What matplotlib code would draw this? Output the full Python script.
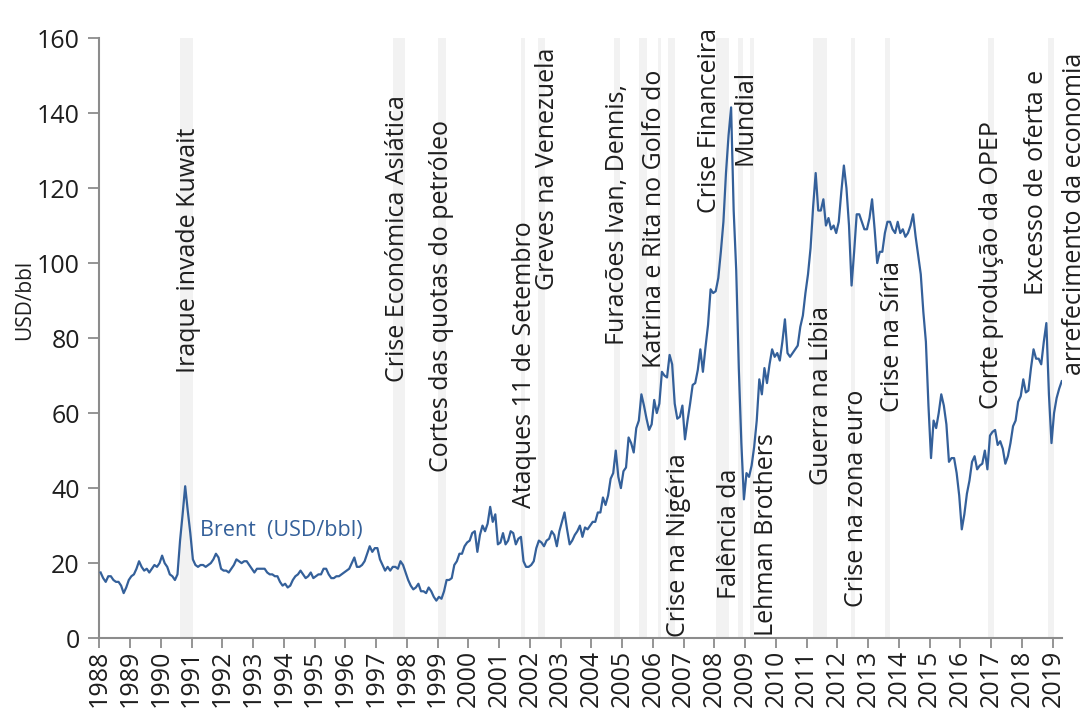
import matplotlib
matplotlib.use("Agg")
import matplotlib.pyplot as plt
import numpy as np

LINE = "#34609A"; BAND = "#F2F2F2"; AXIS = "#8C8C8C"; INK = "#1E1E1E"
plt.rcParams.update({"font.family": ["Open Sans", "DejaVu Sans"], "font.weight": "normal",
                     "text.color": INK, "xtick.color": INK, "ytick.color": INK})

years = list(range(1988, 2020))
# Brent, USD/bbl, one value per month (Jan..Dec), 2019 to April
brent = [
    [17.5, 16.0, 15.0, 16.5, 16.5, 15.5, 15.0, 15.0, 14.0, 12.0, 13.5, 15.5],
    [16.5, 17.0, 18.5, 20.5, 19.0, 18.0, 18.5, 17.5, 18.5, 19.5, 19.0, 20.0],
    [22.0, 20.0, 19.0, 17.0, 16.5, 15.5, 17.0, 26.0, 33.0, 40.5, 34.0, 28.0],
    [21.0, 19.5, 19.0, 19.5, 19.5, 19.0, 19.5, 20.0, 21.0, 22.5, 21.5, 18.5],
    [18.0, 18.0, 17.5, 18.5, 19.5, 21.0, 20.5, 20.0, 20.5, 20.5, 19.5, 18.5],
    [17.5, 18.5, 18.5, 18.5, 18.5, 17.5, 17.0, 17.0, 16.5, 16.5, 15.0, 14.0],
    [14.5, 13.5, 14.0, 15.5, 16.5, 17.0, 18.0, 17.0, 16.0, 16.5, 17.5, 16.0],
    [16.5, 17.0, 17.0, 18.5, 18.5, 17.0, 16.0, 16.0, 16.5, 16.5, 17.0, 17.5],
    [18.0, 18.5, 20.0, 21.5, 19.0, 19.0, 19.5, 20.5, 22.5, 24.5, 23.0, 24.0],
    [24.0, 21.0, 19.5, 18.0, 19.0, 18.0, 19.0, 19.0, 18.5, 20.5, 19.5, 17.5],
    [15.5, 14.0, 13.0, 13.5, 14.5, 12.5, 12.5, 12.0, 13.5, 12.5, 11.0, 10.0],
    [11.0, 10.5, 12.5, 15.5, 15.5, 16.0, 19.5, 20.5, 22.5, 22.5, 24.5, 25.5],
    [26.0, 28.0, 28.5, 23.0, 27.5, 30.0, 28.5, 30.5, 35.0, 31.0, 33.0, 25.0],
    [25.5, 28.0, 25.0, 26.0, 28.5, 28.0, 25.0, 26.5, 27.0, 20.5, 19.0, 19.0],
    [19.5, 20.5, 24.0, 26.0, 25.5, 24.5, 26.0, 26.5, 28.5, 27.5, 24.5, 28.5],
    [31.0, 33.5, 29.0, 25.0, 26.0, 27.5, 28.5, 30.0, 27.0, 29.5, 29.0, 30.0],
    [31.0, 31.0, 33.5, 33.5, 37.5, 35.5, 38.0, 42.5, 44.0, 50.0, 43.0, 40.0],
    [44.5, 45.5, 53.5, 52.0, 49.5, 56.0, 58.0, 65.0, 62.0, 58.5, 55.5, 57.0],
    [63.5, 60.0, 62.5, 71.0, 70.0, 69.5, 75.5, 73.0, 62.5, 58.5, 59.0, 62.0],
    [53.0, 58.0, 62.5, 67.5, 68.0, 71.5, 77.0, 71.0, 77.5, 83.5, 93.0, 92.0],
    [92.5, 96.0, 103.0, 111.0, 124.0, 134.0, 141.5, 114.0, 98.0, 72.0, 52.0, 37.0],
    [44.0, 43.0, 46.0, 51.0, 58.0, 69.0, 65.0, 72.0, 68.0, 73.0, 77.0, 75.0],
    [76.0, 74.0, 79.0, 85.0, 76.0, 75.0, 76.0, 77.0, 78.0, 83.0, 86.0, 92.0],
    [97.0, 104.0, 115.0, 124.0, 114.0, 114.0, 117.0, 110.0, 112.0, 109.0, 110.0, 108.0],
    [111.0, 119.0, 126.0, 120.0, 110.0, 94.0, 103.0, 113.0, 113.0, 111.0, 109.0, 109.0],
    [112.0, 117.0, 109.0, 100.0, 103.0, 103.0, 108.0, 111.0, 111.0, 109.0, 108.0, 111.0],
    [108.0, 109.0, 107.0, 108.0, 110.0, 113.0, 107.0, 102.0, 97.0, 87.0, 79.0, 62.0],
    [48.0, 58.0, 56.0, 60.0, 65.0, 62.0, 57.0, 47.0, 48.0, 48.0, 44.0, 38.0],
    [29.0, 33.0, 38.5, 42.0, 47.0, 48.5, 45.0, 46.0, 46.5, 50.0, 45.0, 54.0],
    [55.0, 55.5, 51.5, 52.5, 50.5, 46.5, 48.5, 52.0, 56.5, 58.0, 63.0, 64.5],
    [69.0, 65.5, 66.0, 72.0, 77.0, 74.5, 74.5, 73.0, 79.0, 84.0, 65.0, 52.0],
    [60.0, 64.0, 66.5, 68.5],
]

# shaded event windows (start, end) in decimal years
band_start = [1990.63, 1997.535, 1999.0, 2001.72, 2002.27, 2004.73, 2005.55, 2006.17, 2006.5,
              2008.04, 2008.75, 2009.15, 2011.19, 2012.43, 2013.55, 2016.91, 2018.86]
band_end = [1991.04, 1997.94, 1999.26, 2001.84, 2002.49, 2004.92, 2005.81, 2006.25, 2006.71,
            2008.46, 2008.94, 2009.29, 2011.67, 2012.57, 2013.70, 2017.09, 2019.05]

# event labels: text, x (year), y where the text starts
events = [
    ("Iraque invade Kuwait", 1990.89, 70.7),
    ("Crise Económica Asiática", 1997.71, 68.3),
    ("Cortes das quotas do petróleo", 1999.14, 44.3),
    ("Ataques 11 de Setembro", 2001.84, 34.7),
    ("Greves na Venezuela", 2002.58, 92.8),
    ("Furacões Ivan, Dennis,", 2004.85, 78.1),
    ("Katrina e Rita no Golfo do", 2006.06, 72.0),
    ("Crise Financeira", 2007.84, 113.3),
    ("Mundial", 2009.0, 126.1),
    ("Crise na Nigéria", 2006.84, 0.3),
    ("Falência da", 2008.5, 10.4),
    ("Lehman Brothers", 2009.7, 0.5),
    ("Guerra na Líbia", 2011.49, 40.8),
    ("Crise na zona euro", 2012.63, 8.3),
    ("Crise na Síria", 2013.79, 60.3),
    ("Corte produção da OPEP", 2017.0, 61.1),
    ("Excesso de oferta e", 2018.47, 91.5),
    ("arrefecimento da economia", 2019.71, 70.1),
]

t = []; v = []
for y, row in zip(years, brent):
    for m, val in enumerate(row):
        t.append(y + (m + 0.5) / 12); v.append(val)

fig = plt.figure(figsize=(10.89, 7.17), dpi=100)
ax = fig.add_axes([0.0912, 0.110, 0.884, 0.837])

for a, b in zip(band_start, band_end):
    ax.axvspan(a, b, color=BAND, lw=0, zorder=0)
ax.plot(t, v, color=LINE, lw=1.6, zorder=3)

for txt, x, y in events:
    ax.text(x, y, txt, rotation=90, rotation_mode="anchor", ha="left", va="center",
            fontsize=18, zorder=4, clip_on=False)
ax.text(1991.28, 28.8, "Brent  (USD/bbl)", color=LINE, fontsize=15.5, va="center", zorder=4)

ax.set_xlim(1988, 2019.3); ax.set_ylim(0, 160)
ax.set_xticks(years); ax.set_xticklabels([str(y) for y in years], rotation=90)
ax.set_yticks(np.arange(0, 161, 20))
ax.tick_params(axis="both", labelsize=18, color=AXIS, width=1.3, direction="out")
ax.tick_params(axis="y", length=8, pad=6)
ax.tick_params(axis="x", length=7, pad=1.5)
for s in ("top", "right"): ax.spines[s].set_visible(False)
for s in ("left", "bottom"):
    ax.spines[s].set_color(AXIS); ax.spines[s].set_linewidth(1.5)
fig.text(25 / 1089, 1 - 300 / 717, "USD/bbl", rotation=90, ha="center", va="center", fontsize=15)

fig.savefig("out.png", dpi=100)
